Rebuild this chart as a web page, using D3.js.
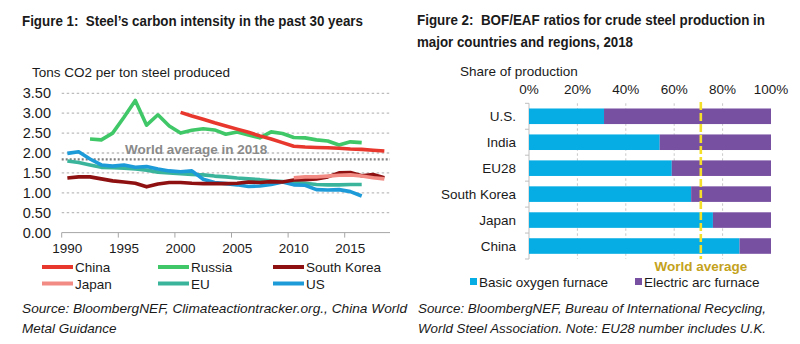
<!DOCTYPE html>
<html>
<head>
<meta charset="utf-8">
<script src="https://cdn.jsdelivr.net/npm/d3@7"></script>
<style>
    body { margin: 0; background: #fff; }
    svg text { font-family: "Liberation Sans", Arial, sans-serif; fill: #1a1a1a; white-space: pre; }
</style>
</head>
<body>
<div id="charts"></div>
<script>
// Figure 1 - carbon intensity, tons CO2 per ton steel
const years = [1990, 1991, 1992, 1993, 1994, 1995, 1996, 1997, 1998, 1999,
    2000, 2001, 2002, 2003, 2004, 2005, 2006, 2007, 2008, 2009,
    2010, 2011, 2012, 2013, 2014, 2015, 2016, 2017, 2018]
const china = [null, null, null, null, null, null, null, null, null, null,
    3.02, 2.93, 2.85, 2.76, 2.68, 2.60, 2.52, 2.43, 2.35, 2.26,
    2.17, 2.15, 2.14, 2.13, 2.12, 2.10, 2.09, 2.07, 2.05]
const russia = [null, null, 2.35, 2.33, 2.50, 2.90, 3.32, 2.70, 2.96, 2.68,
    2.50, 2.57, 2.61, 2.58, 2.47, 2.53, 2.45, 2.38, 2.53, 2.49,
    2.39, 2.38, 2.33, 2.30, 2.20, 2.28, 2.26, null, null]
const southKorea = [1.37, 1.40, 1.40, 1.35, 1.30, 1.27, 1.24, 1.15, 1.22, 1.26,
    1.26, 1.24, 1.23, 1.23, 1.23, 1.24, 1.27, 1.26, 1.28, 1.27,
    1.32, 1.33, 1.35, 1.40, 1.50, 1.51, 1.43, 1.46, 1.38]
const japan = [null, null, null, null, null, null, null, null, null, null,
    null, null, null, null, null, null, null, null, null, null,
    1.38, 1.40, 1.40, 1.42, 1.44, 1.45, 1.42, 1.38, 1.35]
const eu = [1.80, 1.76, 1.70, 1.64, 1.63, 1.62, 1.60, 1.57, 1.52, 1.50,
    1.48, 1.46, 1.45, 1.42, 1.40, 1.37, 1.35, 1.33, 1.30, 1.28,
    1.26, 1.24, 1.21, 1.20, 1.20, 1.21, 1.21, null, null]
const us = [1.99, 2.03, 1.85, 1.70, 1.67, 1.70, 1.64, 1.66, 1.60, 1.55,
    1.53, 1.55, 1.34, 1.26, 1.23, 1.20, 1.16, 1.17, 1.21, 1.27,
    1.20, 1.19, 1.08, 1.07, 1.08, 1.03, 0.92, null, null]
const worldAvgIntensity = 1.84
const intensityTicks = [0, 0.5, 1, 1.5, 2, 2.5, 3, 3.5]
const yearTicks = [1990, 1995, 2000, 2005, 2010, 2015]

// Figure 2 - BOF / EAF split, 2018
const regions = ["U.S.", "India", "EU28", "South Korea", "Japan", "China"]
const bofShare = [0.31, 0.54, 0.59, 0.67, 0.76, 0.87]
const eafShare = [0.69, 0.46, 0.41, 0.33, 0.24, 0.13]
const worldAvgBof = 0.71
const shareTicks = [0, 0.2, 0.4, 0.6, 0.8, 1]

const svg = d3.select("#charts").append("svg")
    .attr("width", 800)
    .attr("height", 344)

class intensityVis {

    constructor(svg) {
        this.svg = svg
        this.series = [
            {name: "Russia", values: russia, color: "#40c868"},
            {name: "EU", values: eu, color: "#3bb49c"},
            {name: "US", values: us, color: "#1d9ad8"},
            {name: "South Korea", values: southKorea, color: "#8e1010"},
            {name: "Japan", values: japan, color: "#f18b84"},
            {name: "China", values: china, color: "#e8372c"}
        ]
        this.initVis()
    }

    initVis() {
        let vis = this
        vis.g = vis.svg.append("g")

        vis.x = d3.scaleLinear().domain([1989.5, 2018.5]).range([61.7, 390])
        vis.y = d3.scaleLinear().domain([0, 3.5]).range([232.6, 93.3])

        vis.g.append("text")
            .attr("x", 22).attr("y", 25.5)
            .attr("font-size", 14).attr("font-weight", "bold")
            .attr("textLength", 341).attr("lengthAdjust", "spacingAndGlyphs")
            .text("Figure 1:  Steel\u2019s carbon intensity in the past 30 years")

        vis.g.append("text")
            .attr("x", 32).attr("y", 77)
            .attr("font-size", 13.5)
            .text("Tons CO2 per ton steel produced")

        // dashed gridlines
        vis.g.selectAll(".ygrid")
            .data(intensityTicks.filter(d => d > 0))
            .enter().append("line")
            .attr("class", "ygrid")
            .attr("x1", vis.x.range()[0]).attr("x2", vis.x.range()[1])
            .attr("y1", d => vis.y(d)).attr("y2", d => vis.y(d))
            .attr("stroke", "#bdbdbd").attr("stroke-width", 1.3)
            .attr("stroke-dasharray", "2.5,2.5")

        vis.g.selectAll(".ylabel")
            .data(intensityTicks)
            .enter().append("text")
            .attr("class", "ylabel")
            .attr("x", 51).attr("y", d => vis.y(d) + 5)
            .attr("text-anchor", "end").attr("font-size", 14.5)
            .text(d => d3.format(".2f")(d))

        // category axis: ticks between years, labels on the year
        vis.g.append("line")
            .attr("x1", vis.x.range()[0]).attr("x2", vis.x.range()[1])
            .attr("y1", vis.y(0)).attr("y2", vis.y(0))
            .attr("stroke", "#a6a6a6").attr("stroke-width", 1)
        vis.g.selectAll(".xtick")
            .data(yearTicks)
            .enter().append("line")
            .attr("class", "xtick")
            .attr("x1", d => vis.x(d - 0.5)).attr("x2", d => vis.x(d - 0.5))
            .attr("y1", vis.y(0)).attr("y2", vis.y(0) + 5)
            .attr("stroke", "#a6a6a6")
        vis.g.selectAll(".xlabel")
            .data(yearTicks)
            .enter().append("text")
            .attr("class", "xlabel")
            .attr("x", d => vis.x(d)).attr("y", 253)
            .attr("text-anchor", "middle").attr("font-size", 13.5)
            .text(d => d)

        // world average reference
        vis.g.append("line")
            .attr("x1", vis.x.range()[0]).attr("x2", vis.x.range()[1])
            .attr("y1", vis.y(worldAvgIntensity)).attr("y2", vis.y(worldAvgIntensity))
            .attr("stroke", "#7f7f7f").attr("stroke-width", 2.2)
            .attr("stroke-dasharray", "2,2")
        vis.g.append("text")
            .attr("x", 125).attr("y", vis.y(worldAvgIntensity) - 5)
            .attr("font-size", 13.5).attr("font-weight", "bold")
            .style("fill", "#8a8a8a")
            .text("World average in 2018")

        vis.line = d3.line()
            .defined(d => d.v !== null)
            .x(d => vis.x(d.year))
            .y(d => vis.y(d.v))

        vis.g.selectAll(".series")
            .data(vis.series)
            .enter().append("path")
            .attr("class", "series")
            .attr("d", s => vis.line(years.map((yr, i) => ({year: yr, v: s.values[i]}))))
            .attr("fill", "none")
            .attr("stroke", s => s.color)
            .attr("stroke-width", 3.6)
            .attr("stroke-linejoin", "round")

        // legend, three columns
        let legendOrder = ["China", "Russia", "South Korea", "Japan", "EU", "US"]
        let colX = [42, 158, 273]
        let rowY = [267, 283.5]
        legendOrder.forEach((name, i) => {
            let s = vis.series.find(d => d.name === name)
            let lx = colX[i % 3], ly = rowY[Math.floor(i / 3)]
            vis.g.append("line")
                .attr("x1", lx).attr("x2", lx + 31)
                .attr("y1", ly).attr("y2", ly)
                .attr("stroke", s.color).attr("stroke-width", 4)
            vis.g.append("text")
                .attr("x", lx + 33).attr("y", ly + 5)
                .attr("font-size", 13.5)
                .text(name)
        })

        vis.g.append("text")
            .attr("x", 22).attr("y", 313)
            .attr("font-size", 13.5).attr("font-style", "italic")
            .attr("textLength", 385).attr("lengthAdjust", "spacingAndGlyphs")
            .text("Source: BloombergNEF, Climateactiontracker.org., China World")
        vis.g.append("text")
            .attr("x", 22).attr("y", 333)
            .attr("font-size", 13.5).attr("font-style", "italic")
            .text("Metal Guidance")
    }
}

class shareVis {

    constructor(svg) {
        this.svg = svg
        this.initVis()
    }

    initVis() {
        let vis = this
        vis.g = vis.svg.append("g")

        vis.x = d3.scaleLinear().domain([0, 1]).range([529, 771])
        vis.y = d3.scaleBand().domain(regions).range([103.3, 259])
            .paddingInner(0.4).paddingOuter(0.2)

        vis.g.append("text")
            .attr("x", 417).attr("y", 24.5)
            .attr("font-size", 14).attr("font-weight", "bold")
            .attr("textLength", 348).attr("lengthAdjust", "spacingAndGlyphs")
            .text("Figure 2:  BOF/EAF ratios for crude steel production in")
        vis.g.append("text")
            .attr("x", 417).attr("y", 46.5)
            .attr("font-size", 14).attr("font-weight", "bold")
            .attr("textLength", 216).attr("lengthAdjust", "spacingAndGlyphs")
            .text("major countries and regions, 2018")

        vis.g.append("text")
            .attr("x", 460).attr("y", 76)
            .attr("font-size", 13.5)
            .text("Share of production")

        vis.g.selectAll(".xlabel")
            .data(shareTicks)
            .enter().append("text")
            .attr("class", "xlabel")
            .attr("x", d => vis.x(d)).attr("y", 94)
            .attr("text-anchor", "middle").attr("font-size", 13.5)
            .text(d => d3.format(".0%")(d))

        vis.g.selectAll(".xgrid")
            .data(shareTicks.filter(d => d > 0 && d < 1))
            .enter().append("line")
            .attr("class", "xgrid")
            .attr("x1", d => vis.x(d)).attr("x2", d => vis.x(d))
            .attr("y1", 103.3).attr("y2", 259)
            .attr("stroke", "#c8c8c8").attr("stroke-dasharray", "2.5,2.5")

        // left axis with ticks on band edges
        vis.g.append("line")
            .attr("x1", 529).attr("x2", 529)
            .attr("y1", 103.3).attr("y2", 259)
            .attr("stroke", "#bfbfbf")
        let edges = regions.map(r => vis.y(r) - vis.y.step() * vis.y.paddingInner() / 2)
        edges.push(259)
        vis.g.selectAll(".ytick")
            .data(edges)
            .enter().append("line")
            .attr("class", "ytick")
            .attr("x1", 525).attr("x2", 529)
            .attr("y1", d => d).attr("y2", d => d)
            .attr("stroke", "#bfbfbf")

        vis.g.selectAll(".ylabel")
            .data(regions)
            .enter().append("text")
            .attr("class", "ylabel")
            .attr("x", 516).attr("y", d => vis.y(d) + vis.y.bandwidth() / 2 + 5)
            .attr("text-anchor", "end").attr("font-size", 13.5)
            .text(d => d)

        vis.g.selectAll(".bof")
            .data(regions)
            .enter().append("rect")
            .attr("class", "bof")
            .attr("x", vis.x(0))
            .attr("y", d => vis.y(d))
            .attr("width", (d, i) => vis.x(bofShare[i]) - vis.x(0))
            .attr("height", vis.y.bandwidth())
            .attr("fill", "#05ade4")
        vis.g.selectAll(".eaf")
            .data(regions)
            .enter().append("rect")
            .attr("class", "eaf")
            .attr("x", (d, i) => vis.x(bofShare[i]))
            .attr("y", d => vis.y(d))
            .attr("width", (d, i) => vis.x(bofShare[i] + eafShare[i]) - vis.x(bofShare[i]))
            .attr("height", vis.y.bandwidth())
            .attr("fill", "#7850a2")

        vis.g.append("line")
            .attr("x1", vis.x(worldAvgBof)).attr("x2", vis.x(worldAvgBof))
            .attr("y1", 102).attr("y2", 259)
            .attr("stroke", "#f4df2a").attr("stroke-width", 2.6)
            .attr("stroke-dasharray", "8,3")
        vis.g.append("text")
            .attr("x", vis.x(worldAvgBof)).attr("y", 270.5)
            .attr("text-anchor", "middle")
            .attr("font-size", 13.5).attr("font-weight", "bold")
            .style("fill", "#c4a21c")
            .text("World average")

        // legend
        let items = [{name: "Basic oxygen furnace", color: "#05ade4", x: 470},
            {name: "Electric arc furnace", color: "#7850a2", x: 635}]
        items.forEach(it => {
            vis.g.append("rect")
                .attr("x", it.x).attr("y", 278)
                .attr("width", 7).attr("height", 7)
                .attr("fill", it.color)
            vis.g.append("text")
                .attr("x", it.x + 9).attr("y", 286.5)
                .attr("font-size", 13.5)
                .text(it.name)
        })

        vis.g.append("text")
            .attr("x", 418).attr("y", 313)
            .attr("font-size", 13.5).attr("font-style", "italic")
            .attr("textLength", 348).attr("lengthAdjust", "spacingAndGlyphs")
            .text("Source: BloombergNEF, Bureau of International Recycling,")
        vis.g.append("text")
            .attr("x", 418).attr("y", 333)
            .attr("font-size", 13.5).attr("font-style", "italic")
            .attr("textLength", 348).attr("lengthAdjust", "spacingAndGlyphs")
            .text("World Steel Association. Note: EU28 number includes U.K.")
    }
}

new intensityVis(svg)
new shareVis(svg)
</script>
</body>
</html>
